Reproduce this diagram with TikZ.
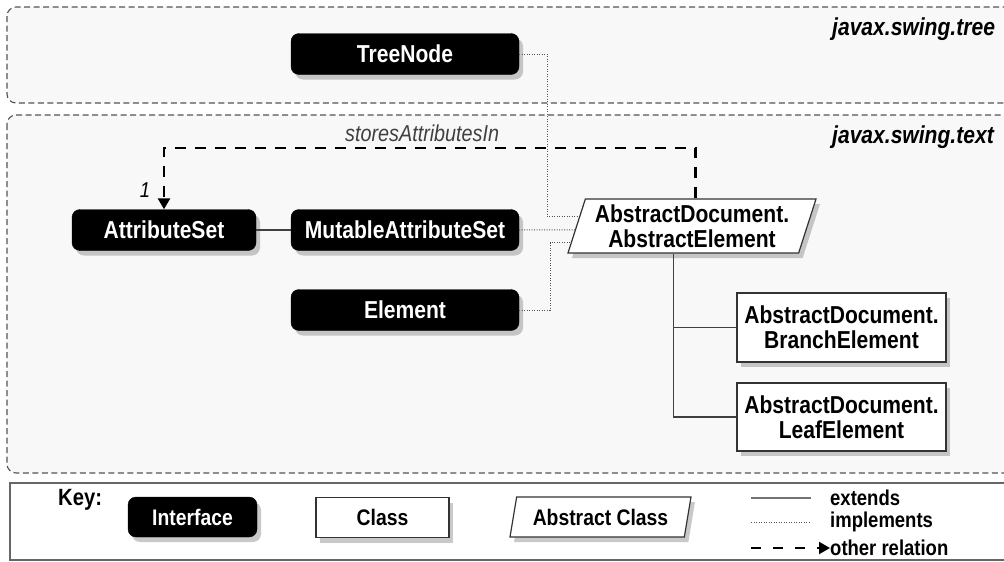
\documentclass[tikz,border=0pt]{standalone}
\usepackage{fontspec}
\setmainfont{Liberation Sans}[FakeStretch=0.86]
\usetikzlibrary{arrows.meta,shapes.geometric,shadows,calc}

\definecolor{regionfill}{gray}{0.972}
\definecolor{rulegray}{gray}{0.33}

\begin{document}
\begin{tikzpicture}[x=1pt,y=-1pt,
  boxshadow/.style={drop shadow={shadow xshift=4pt,shadow yshift=-5pt,opacity=0.42}},
  iface/.style={draw=black, fill=black, text=white, rounded corners=8pt,
    font=\fontsize{24.5}{25}\selectfont\bfseries, minimum height=41pt, inner sep=0pt, boxshadow},
  cls/.style={draw=black!80, fill=white, line width=1.2pt, align=center,
    font=\fontsize{24.5}{25}\selectfont\bfseries, minimum width=209pt, inner sep=0pt, boxshadow},
  abstractcls/.style={trapezium, trapezium left angle=68, trapezium right angle=112,
    trapezium stretches body, draw=black!80, fill=white, line width=1.2pt, align=center,
    font=\fontsize{24.5}{25}\selectfont\bfseries, inner sep=0pt, boxshadow},
  region/.style={draw=rulegray, fill=regionfill, line width=1.1pt, rounded corners=9pt,
    dash pattern=on 6pt off 3.5pt},
  pkg/.style={font=\fontsize{24.5}{26}\selectfont\bfseries\itshape, anchor=base west, inner sep=0pt},
  keytxt/.style={font=\fontsize{21.5}{23}\selectfont\bfseries, anchor=west, inner sep=0pt},
  impl/.style={draw=rulegray, line width=1pt, dash pattern=on 1pt off 1.5pt},
  ext/.style={draw=black!75, line width=1.2pt},
  rel/.style={draw=black, line width=2.5pt, dash pattern=on 11pt off 9pt,
    -{Triangle[length=11pt,width=12pt]}}]
\useasboundingbox (0,0) rectangle (1004,562);
\clip (0,0) rectangle (1004,562);

% packages
\draw[region] (7,7) rectangle (1016,103);
\draw[region] (7,115) rectangle (1016,473);
\node[pkg] (pkgtree) at (832,35) {javax.swing.tree};
\node[pkg] (pkgtext) at (832,143) {javax.swing.text};

% interfaces
\node[iface, minimum width=228pt] (treenode) at (405,54) {TreeNode};
\node[iface, minimum width=184pt] (attrset) at (164,230) {AttributeSet};
\node[iface, minimum width=228pt] (mutable) at (405,230) {MutableAttributeSet};
\node[iface, minimum width=228pt] (element) at (405,310) {Element};

% classes
\node[abstractcls, minimum width=248pt, minimum height=54pt] (abselem) at (692,226) {AbstractDocument.\\AbstractElement};
\node[cls, minimum height=69pt] (branch) at (841.5,327.5) {AbstractDocument.\\BranchElement};
\node[cls, minimum height=68pt] (leaf) at (841.5,417) {AbstractDocument.\\LeafElement};

% implements
\draw[impl] (treenode.east) -- ++(28,0) |- ($(abselem.top left corner)!0.33!(abselem.bottom left corner)$);
\draw[impl] (mutable.east) -- ($(abselem.top left corner)!0.57!(abselem.bottom left corner)$);
\draw[impl] (element.east) -- ++(31,0) |- ($(abselem.top left corner)!0.8!(abselem.bottom left corner)$);

% extends
\draw[ext] (attrset) -- (mutable);
\coordinate (extroot) at ($(abselem.bottom left corner)!0.46!(abselem.bottom right corner)$);
\draw[ext] (extroot) |- (leaf.west);
\draw[ext] (extroot |- branch.west) -- (branch.west);

% storesAttributesIn
\coordinate (relrow) at (0,148);
\draw[rel] ($(abselem.top left corner)!0.476!(abselem.top right corner)$) |- (attrset.north |- relrow) -- (attrset.north);
\node[font=\fontsize{23}{24}\selectfont\itshape, text=black!75, anchor=base west, inner sep=0pt] (stores) at (345,141) {storesAttributesIn};
\node[font=\fontsize{21.5}{22}\selectfont\itshape, anchor=base, inner sep=0pt] (mult) at (145,197) {1};

% key
\draw[draw=black!60, fill=white, line width=1.5pt] (10,483) rectangle (1016,560);
\node[font=\fontsize{23.5}{24}\selectfont\bfseries, anchor=base west, inner sep=0pt] (keylbl) at (58,505) {Key:};
\node[iface, font=\fontsize{22.5}{23}\selectfont\bfseries, minimum width=129pt, minimum height=40pt] (kiface) at (192.5,517) {Interface};
\node[cls, font=\fontsize{22.5}{23}\selectfont\bfseries, minimum width=133pt, minimum height=40pt] (kcls) at (382.5,517.5) {Class};
\node[abstractcls, font=\fontsize{22.5}{23}\selectfont\bfseries, minimum width=181pt, minimum height=40pt] (kabs) at (600.5,517) {Abstract Class};
\node[keytxt] (kext) at (830,498) {extends};
\node[keytxt] (kimpl) at (830,522) {implements};
\node[keytxt] (krel) at (830,548) {other relation};
\draw[ext, draw=black!55, line width=2pt] ($(kext.west)+(-79,0)$) -- ($(kext.west)+(-19,0)$);
\draw[impl] ($(kimpl.west)+(-79,0)$) -- ($(kimpl.west)+(-19,0)$);
\draw[rel, line width=2pt, dash pattern=on 10pt off 12pt] ($(krel.west)+(-79,0)$) -- (krel.west);
\end{tikzpicture}
\end{document}
